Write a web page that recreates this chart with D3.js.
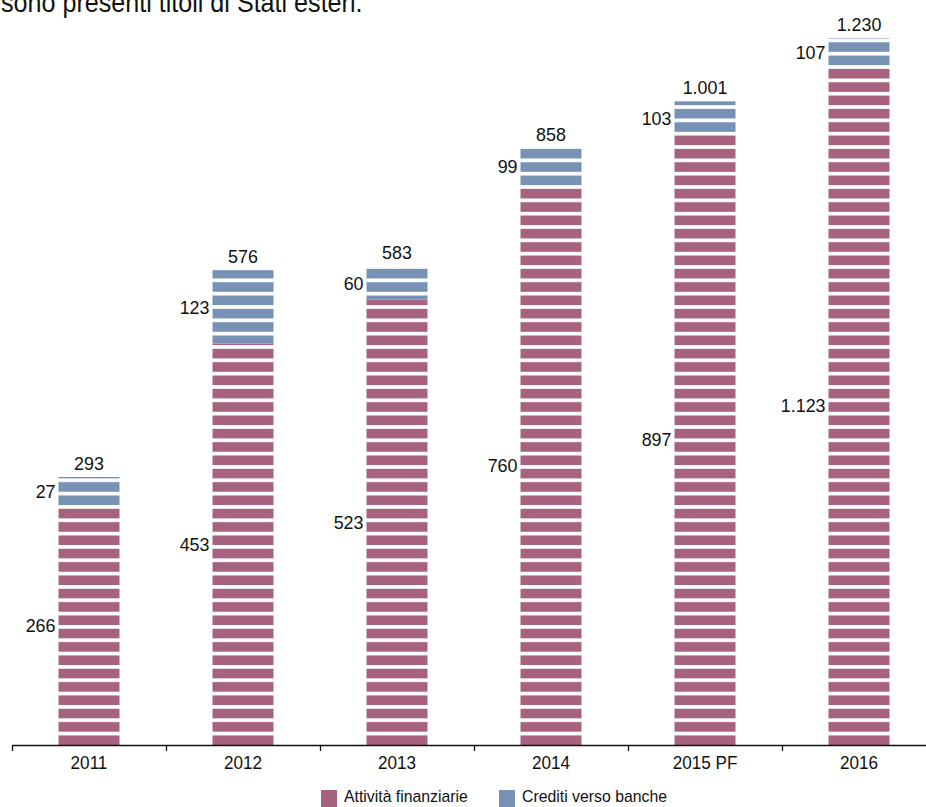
<!DOCTYPE html>
<html>
<head>
<meta charset="utf-8">
<script src="https://cdn.jsdelivr.net/npm/d3@7"></script>
<style>
  body { margin: 0; background: #fff; }
  svg { display: block; font-family: "Liberation Sans", Arial, sans-serif; }
</style>
</head>
<body>
<div id="chart"></div>
<script>
// --- data ---
const anni = ['2011', '2012', '2013', '2014', '2015 PF', '2016'];
const attivitaFinanziarie = [266, 453, 523, 760, 897, 1123];
const creditiBanche = [27, 123, 60, 99, 103, 107];
const totali = [293, 576, 583, 858, 1001, 1230];
const serie = ['Attività finanziarie', 'Crediti verso banche'];
const testoSopra = 'sono presenti titoli di Stati esteri.';

//chart dimensions
const width = 926;
const height = 807;
const baseY = 745;
const colori = ['#a6627f', '#7892b6'];

const itFormat = d3.formatLocale({decimal: ',', thousands: '.', grouping: [3], currency: ['€', '']}).format(',');

//the original font is a narrow one: squeeze the text a bit
function condense(sel, f) {
    sel.each(function() {
        let t = d3.select(this);
        t.attr('textLength', this.getComputedTextLength() * f)
         .attr('lengthAdjust', 'spacingAndGlyphs');
    });
}

let rows = anni.map((a, i) => ({anno: a, fin: attivitaFinanziarie[i], banche: creditiBanche[i], tot: totali[i]}));
let stacked = d3.stack().keys(['fin', 'banche'])(rows);

let svg = d3.select('#chart')
    .append('svg')
        .attr('width', width)
        .attr('height', height);

// striped fills, anchored on the baseline
let defs = svg.append('defs');
colori.forEach((c, i) => {
    let p = defs.append('pattern')
        .attr('id', 'stripe' + i)
        .attr('patternUnits', 'userSpaceOnUse')
        .attr('x', 0)
        .attr('y', baseY)
        .attr('width', 20)
        .attr('height', 13.33);
    p.append('rect').attr('width', 20).attr('height', 13.33).attr('fill', '#fff');
    p.append('rect').attr('y', 3.7).attr('width', 20).attr('height', 9.63).attr('fill', c);
});

//band scale for x
let x = d3.scaleBand()
    .domain(anni)
    .range([12, 936])
    .padding(0);

const barWidth = 61;

//the original bars are far from proportional, a log scale follows them best
let yMin = 122;
let y = d3.scaleLog()
    .domain([yMin, d3.max(totali)])
    .range([baseY, 38]);

let yv = v => y(Math.max(v, yMin));

//stacked rects
svg.append('g')
    .selectAll('g')
    .data(stacked)
    .join('g')
        .attr('fill', (d, i) => `url(#stripe${i})`)
    .selectAll('rect')
    .data(d => d)
    .join('rect')
        .attr('x', d => x(d.data.anno) + x.bandwidth() / 2 - barWidth / 2)
        .attr('y', d => yv(d[1]))
        .attr('width', barWidth)
        .attr('height', d => yv(d[0]) - yv(d[1]));

//segment labels left of bars
let labels = svg.append('g')
    .attr('font-size', 19)
    .attr('fill', '#111');

stacked.forEach(s => {
    labels.append('g')
        .selectAll('text')
        .data(s)
        .join('text')
            .attr('text-anchor', 'end')
            .attr('x', d => x(d.data.anno) + x.bandwidth() / 2 - barWidth / 2 - 3)
            .attr('y', d => (yv(d[0]) + yv(d[1])) / 2)
            .attr('dy', '0.35em')
            .text(d => itFormat(d[1] - d[0]));
});

//totals above bars
labels.append('g')
    .selectAll('text')
    .data(rows)
    .join('text')
        .attr('text-anchor', 'middle')
        .attr('x', d => x(d.anno) + x.bandwidth() / 2)
        .attr('y', d => yv(d.tot) - 7)
        .text(d => itFormat(d.tot));

labels.selectAll('text').call(condense, 0.94);

//x-Axis
let xAxis = svg.append('g')
    .attr('transform', `translate(0, ${baseY})`)
    .call(d3.axisBottom(x).tickSize(0).tickSizeOuter(0).tickPadding(11));

xAxis.select('.domain').attr('stroke', '#111').attr('stroke-width', 1.4);
xAxis.selectAll('text')
    .attr('font-size', 18)
    .attr('font-family', '"Liberation Sans", Arial, sans-serif')
    .attr('fill', '#111')
    .call(condense, 0.95);

//ticks on the band edges
xAxis.append('g')
    .selectAll('line')
    .data(anni)
    .join('line')
        .attr('x1', d => Math.round(x(d)) + 0.5)
        .attr('x2', d => Math.round(x(d)) + 0.5)
        .attr('y1', 0)
        .attr('y2', 6)
        .attr('stroke', '#111')
        .attr('stroke-width', 1.3);

//legend
let legend = svg.append('g')
    .attr('font-size', 17)
    .attr('fill', '#111');

let legendX = [321, 499];
serie.forEach((s, i) => {
    legend.append('rect')
        .attr('x', legendX[i])
        .attr('y', 790)
        .attr('width', 16)
        .attr('height', 17)
        .attr('fill', colori[i]);
    legend.append('text')
        .attr('x', legendX[i] + 23)
        .attr('y', 802)
        .text(s)
        .call(condense, 0.93);
});

//text cut at the top, as in the original
svg.append('text')
    .attr('x', 1)
    .attr('y', 12)
    .attr('font-size', 27)
    .attr('fill', '#111')
    .text(testoSopra)
    .call(condense, 0.93);
</script>
</body>
</html>
